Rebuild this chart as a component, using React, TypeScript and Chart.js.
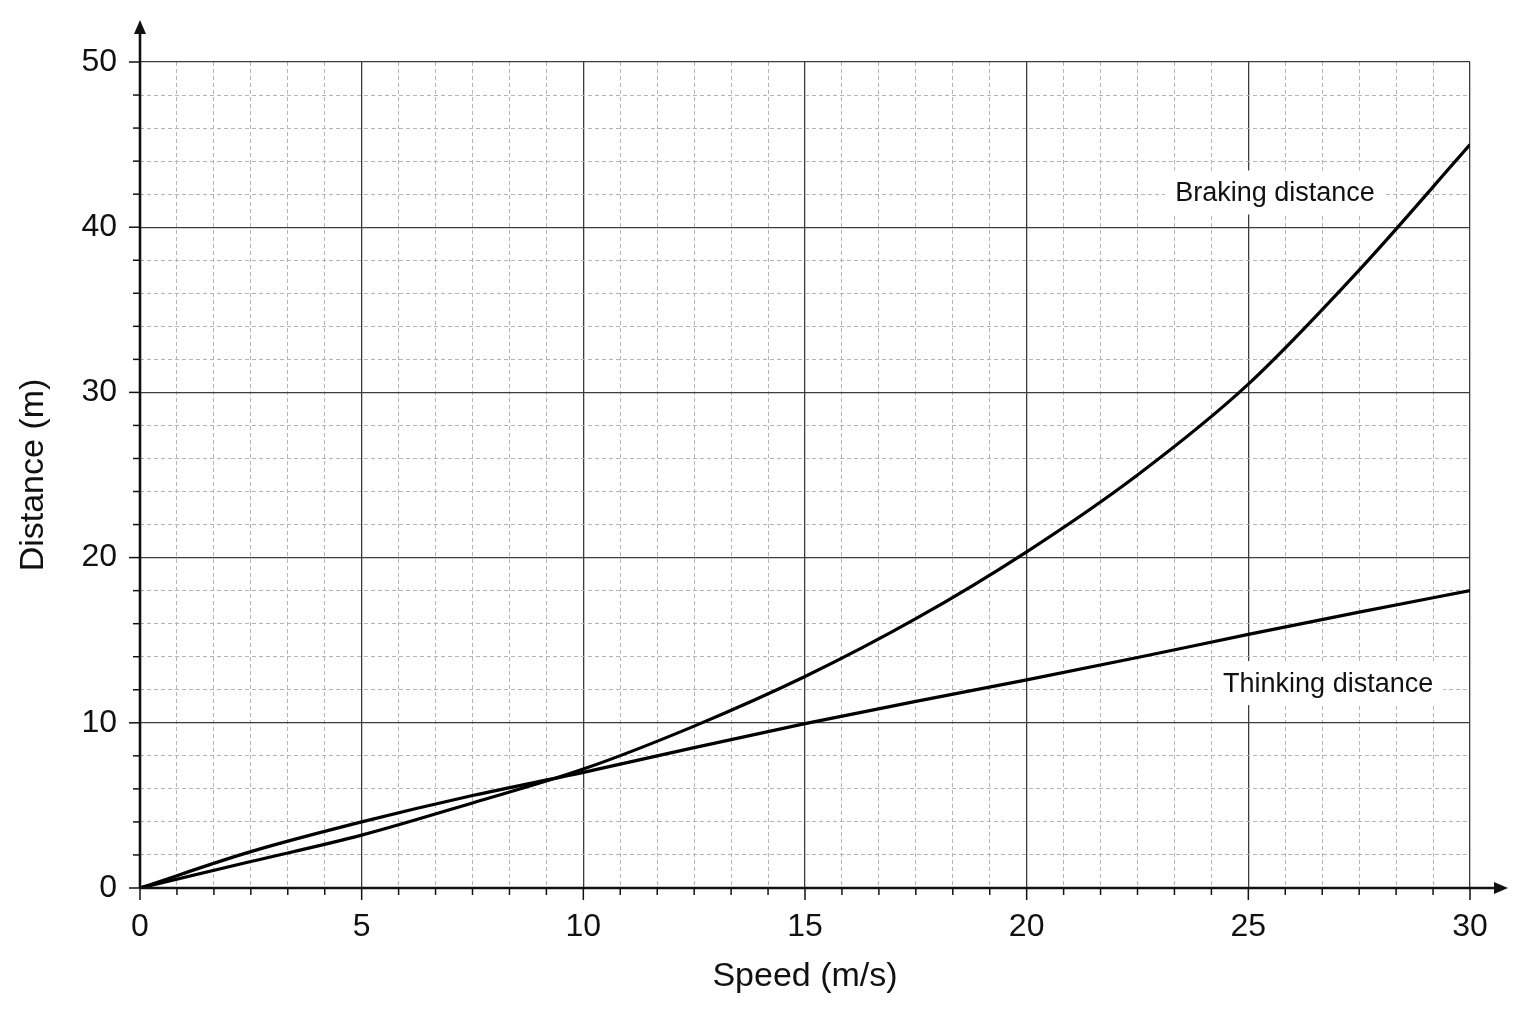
import React, { useEffect, useRef } from "react";
import { Chart, registerables } from "chart.js";

Chart.register(...registerables);

// values
const speed = [0, 2.5, 5, 7.5, 10, 12.5, 15, 17.5, 20, 22.5, 25, 27.5, 30];
const thinking = [0, 2.2, 4.0, 5.6, 7.0, 8.5, 9.95, 11.3, 12.6, 13.95, 15.35, 16.7, 18.0];
const braking = [0, 1.6, 3.2, 5.15, 7.2, 9.8, 12.8, 16.3, 20.35, 25.0, 30.5, 37.4, 45.0];

const curveNames = ["Thinking distance", "Braking distance"];

// text labels placed on the plot
const labelText = ["Braking distance", "Thinking distance"];
const labelX = [25.6, 26.8];
const labelY = [42.1, 12.4];

const xMax = 30;
const yMax = 50;
const xMinorStep = 5 / 6;
const xMajorStep = 5;
const yMinorStep = 2;
const yMajorStep = 10;

const FONT = "'Liberation Sans', Arial, Helvetica, sans-serif";

const isMajor = (v: any, step: number) => {
  if (v === undefined || v === null) return true;
  const r = v / step;
  return Math.abs(r - Math.round(r)) < 1e-6;
};

const axesPlugin = {
  id: "axesPlugin",
  afterDatasetsDraw(chart: any) {
    const { ctx, chartArea, scales } = chart;
    const xs = scales.x;
    const ys = scales.y;
    const x0 = xs.getPixelForValue(0);
    const y0 = ys.getPixelForValue(0);

    ctx.save();
    // label boxes
    ctx.font = `27px ${FONT}`;
    ctx.textAlign = "center";
    ctx.textBaseline = "middle";
    labelText.forEach((t, i) => {
      const px = xs.getPixelForValue(labelX[i]);
      const py = ys.getPixelForValue(labelY[i]);
      const w = ctx.measureText(t).width + 20;
      ctx.fillStyle = "#ffffff";
      ctx.fillRect(px - w / 2, py - 22, w, 44);
      ctx.fillStyle = "#111111";
      ctx.fillText(t, px, py + 1);
    });

    // tick marks
    ctx.strokeStyle = "#111111";
    ctx.lineWidth = 1.5;
    xs.ticks.forEach((tk: any) => {
      const px = xs.getPixelForValue(tk.value);
      const len = isMajor(tk.value, xMajorStep) ? 12 : 7;
      ctx.beginPath();
      ctx.moveTo(px, y0);
      ctx.lineTo(px, y0 + len);
      ctx.stroke();
    });
    ys.ticks.forEach((tk: any) => {
      const py = ys.getPixelForValue(tk.value);
      const len = isMajor(tk.value, yMajorStep) ? 11 : 7;
      ctx.beginPath();
      ctx.moveTo(x0, py);
      ctx.lineTo(x0 - len, py);
      ctx.stroke();
    });

    // axis lines with arrows
    const xEnd = chartArea.right + 38;
    const yEnd = chartArea.top - 42;
    ctx.lineWidth = 2.6;
    ctx.beginPath();
    ctx.moveTo(x0, y0);
    ctx.lineTo(xEnd - 8, y0);
    ctx.moveTo(x0, y0);
    ctx.lineTo(x0, yEnd + 8);
    ctx.stroke();
    ctx.fillStyle = "#111111";
    ctx.beginPath();
    ctx.moveTo(xEnd, y0);
    ctx.lineTo(xEnd - 14, y0 - 6);
    ctx.lineTo(xEnd - 14, y0 + 6);
    ctx.closePath();
    ctx.fill();
    ctx.beginPath();
    ctx.moveTo(x0, yEnd);
    ctx.lineTo(x0 - 6, yEnd + 14);
    ctx.lineTo(x0 + 6, yEnd + 14);
    ctx.closePath();
    ctx.fill();
    ctx.restore();
  },
};

const App = () => {
  const canvasRef = useRef<HTMLCanvasElement>(null);

  useEffect(() => {
    const canvas = canvasRef.current;
    if (!canvas) return;
    Chart.defaults.font.family = FONT;
    Chart.defaults.color = "#111111";

    const gridColor = (ctx: any, step: number) =>
      isMajor(ctx.tick?.value, step) ? "#3c3c3c" : "#b4b4b4";

    const chart = new Chart(canvas, {
      type: "line",
      data: {
        datasets: [
          {
            label: curveNames[0],
            data: speed.map((s, i) => ({ x: s, y: thinking[i] })),
            borderColor: "#000000",
            borderWidth: 3.2,
            pointRadius: 0,
            cubicInterpolationMode: "monotone",
            fill: false,
          },
          {
            label: curveNames[1],
            data: speed.map((s, i) => ({ x: s, y: braking[i] })),
            borderColor: "#000000",
            borderWidth: 3.2,
            pointRadius: 0,
            cubicInterpolationMode: "monotone",
            fill: false,
          },
        ],
      },
      options: {
        animation: false,
        responsive: true,
        maintainAspectRatio: false,
        layout: { padding: { top: 62, right: 66, left: 0, bottom: 0 } },
        plugins: {
          legend: { display: false },
          tooltip: { enabled: false },
        },
        scales: {
          x: {
            type: "linear",
            min: 0,
            max: xMax,
            afterFit: (scale: any) => {
              scale.height = 136;
            },
            ticks: {
              stepSize: xMinorStep,
              autoSkip: false,
              maxRotation: 0,
              padding: 20,
              font: { size: 32 },
              callback: (v: any) =>
                isMajor(v, xMajorStep) ? String(Math.round(v)) : "",
            },
            grid: {
              drawTicks: false,
              color: (ctx: any) => gridColor(ctx, xMajorStep),
              lineWidth: (ctx: any) => (isMajor(ctx.tick?.value, xMajorStep) ? 1.3 : 1),
            },
            border: {
              display: false,
              dash: (ctx: any) => (isMajor(ctx.tick?.value, xMajorStep) ? [] : [4, 3]),
            },
            title: {
              display: true,
              text: "Speed (m/s)",
              font: { size: 34 },
              padding: { top: 0, bottom: 27 },
            },
          },
          y: {
            type: "linear",
            min: 0,
            max: yMax,
            afterFit: (scale: any) => {
              scale.width = 140;
            },
            ticks: {
              stepSize: yMinorStep,
              autoSkip: false,
              padding: 23,
              font: { size: 32 },
              callback: (v: any) =>
                isMajor(v, yMajorStep) ? String(Math.round(v)) : "",
            },
            grid: {
              drawTicks: false,
              color: (ctx: any) => gridColor(ctx, yMajorStep),
              lineWidth: (ctx: any) => (isMajor(ctx.tick?.value, yMajorStep) ? 1.3 : 1),
            },
            border: {
              display: false,
              dash: (ctx: any) => (isMajor(ctx.tick?.value, yMajorStep) ? [] : [4, 3]),
            },
            title: {
              display: true,
              text: "Distance (m)",
              font: { size: 34 },
              padding: { top: 13, bottom: 0 },
            },
          },
        },
      },
      plugins: [axesPlugin],
    } as any);

    return () => {
      chart.destroy();
    };
  }, []);

  return (
    <div
      style={{
        position: "fixed",
        left: 0,
        top: 0,
        width: "1536px",
        height: "1024px",
        background: "#ffffff",
      }}
    >
      <canvas ref={canvasRef} />
    </div>
  );
};

export default App;
